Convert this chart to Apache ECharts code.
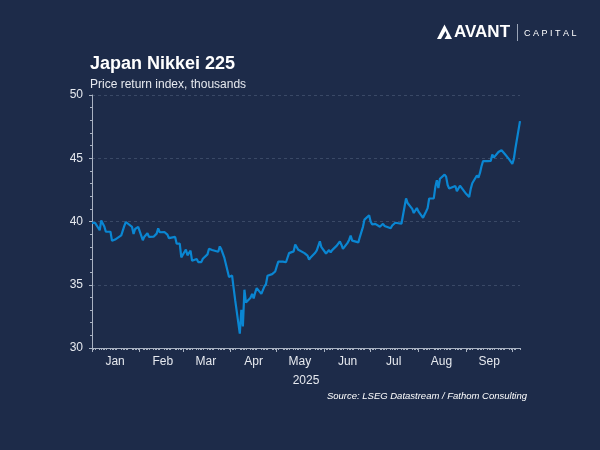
<!DOCTYPE html>
<html>
<head>
<meta charset="utf-8">
<script src="https://cdn.jsdelivr.net/npm/echarts@6/dist/echarts.min.js"></script>
<style>
    html, body { margin: 0; padding: 0; background: #1d2b49; }
    #chart { width: 600px; height: 450px; }
</style>
</head>
<body>
<div id="chart"></div>
<script>
// weekday closes (thousands), holidays carry the previous close
var jan = [39.89, 39.89, 39.89, 39.31, 40.08, 39.98, 39.61, 39.19, 39.19, 38.47, 38.44, 38.57, 38.45,
    38.90, 39.03, 39.65, 39.96, 39.93, 39.57, 39.02, 39.41, 39.51, 39.57];
var feb = [38.52, 38.80, 38.83, 39.07, 38.79, 38.80, 38.80, 39.04, 39.46, 39.15, 39.17, 39.27, 38.96,
    38.68, 38.78, 38.78, 38.24, 38.14, 38.26, 37.16];
var mar = [37.79, 37.33, 37.42, 37.70, 36.89, 37.03, 36.79, 36.82, 36.79, 37.05, 37.40, 37.85, 37.75,
    37.75, 37.68, 37.61, 38.03, 37.80, 37.80, 37.12, 35.62];
var apr = [35.62, 35.73, 34.74, 33.78, 31.14, 33.01, 31.71, 34.61, 33.59, 33.98, 34.27, 33.92, 34.38,
    34.73, 34.28, 34.22, 34.87, 35.04, 35.71, 35.84, 35.84, 36.05];
var may = [36.45, 36.83, 36.83, 36.83, 36.78, 36.93, 37.50, 37.64, 38.18, 38.13, 37.76, 37.75, 37.50,
    37.53, 37.30, 36.99, 37.16, 37.53, 37.72, 37.72, 38.43, 37.97];
var jun = [37.47, 37.45, 37.75, 37.55, 37.74, 38.09, 38.21, 38.42, 38.17, 37.83, 38.31, 38.54, 38.89,
    38.49, 38.40, 38.35, 38.79, 38.94, 39.58, 40.15, 40.49];
var jul = [39.99, 39.76, 39.79, 39.81, 39.59, 39.69, 39.82, 39.65, 39.57, 39.46, 39.68, 39.66, 39.90,
    39.82, 39.82, 39.77, 41.17, 41.83, 41.46, 41.00, 40.67, 40.65, 41.07];
var aug = [40.80, 40.29, 40.55, 40.79, 41.06, 41.82, 41.82, 42.72, 43.27, 42.65, 43.38, 43.71, 43.55,
    42.89, 42.61, 42.63, 42.81, 42.39, 42.52, 42.83, 42.72];
var sep = [42.19, 42.31, 41.94, 42.58, 43.02, 43.64, 43.46, 43.84, 44.37, 44.77, 44.77, 44.90, 44.79,
    45.30, 45.05, 45.49, 45.49, 45.63, 45.75, 45.35, 44.91, 44.93];
var oct = [44.55, 44.94, 45.77, 47.94];

var monthNames = ['Jan', 'Feb', 'Mar', 'Apr', 'May', 'Jun', 'Jul', 'Aug', 'Sep', 'Oct', 'Nov', 'Dec'];
var yTicks = [30, 35, 40, 45, 50];
var startDay = '2025-01-01';
var endDay = '2025-10-06';

// calendar days on the axis, values only on weekdays
var closes = [].concat(jan, feb, mar, apr, may, jun, jul, aug, sep, oct);
var days = [];
var values = [];
var t = Date.parse(startDay);
var tEnd = Date.parse(endDay);
var k = 0;
while (t <= tEnd) {
    var d = new Date(t);
    days.push(d.toISOString().slice(0, 10));
    var wd = d.getUTCDay();
    if (wd >= 1 && wd <= 5) {
        values.push(closes[k]);
        k++;
    } else {
        values.push(null);
    }
    t += 86400000;
}

function isWeekday(v) {
    var wd = new Date(v).getUTCDay();
    return wd >= 1 && wd <= 5;
}

var textColor = '#e6e9ef';
var axisColor = '#a9b2c2';

var chart = echarts.init(document.getElementById('chart'));
chart.setOption({
    backgroundColor: '#1d2b49',
    animation: false,
    textStyle: { fontFamily: 'Liberation Sans, Arial, sans-serif' },
    title: {
        text: 'Japan Nikkei 225',
        subtext: 'Price return index, thousands',
        left: 85,
        top: 50,
        itemGap: 6,
        textStyle: { color: '#ffffff', fontSize: 18, fontWeight: 'bold' },
        subtextStyle: { color: textColor, fontSize: 12 }
    },
    grid: { left: 92, right: 80, top: 95, bottom: 102 },
    xAxis: [{
        type: 'category',
        data: days,
        boundaryGap: false,
        name: '2025',
        nameLocation: 'middle',
        nameGap: 27,
        nameTextStyle: { color: textColor, fontSize: 12 },
        axisLine: { lineStyle: { color: axisColor, width: 1 } },
        axisTick: {
            interval: function (i, v) { return isWeekday(v); },
            length: 2,
            lineStyle: { color: axisColor }
        },
        axisLabel: {
            interval: function (i, v) { return v.slice(8) === '16'; },
            formatter: function (v) { return monthNames[+v.slice(5, 7) - 1]; },
            color: textColor,
            fontSize: 12,
            margin: 8
        },
        splitLine: { show: false }
    }, {
        type: 'category',
        data: days,
        boundaryGap: false,
        position: 'bottom',
        axisLine: { show: false },
        axisTick: {
            interval: function (i, v) { return v.slice(8) === '01'; },
            length: 4,
            lineStyle: { color: axisColor }
        },
        axisLabel: { show: false },
        splitLine: { show: false }
    }],
    yAxis: {
        type: 'value',
        min: yTicks[0],
        max: yTicks[yTicks.length - 1],
        interval: 5,
        axisLine: { show: true, lineStyle: { color: axisColor } },
        axisTick: { show: true, length: 3, lineStyle: { color: axisColor } },
        minorTick: { show: true, splitNumber: 5, length: 2, lineStyle: { color: axisColor } },
        axisLabel: { color: textColor, fontSize: 12, margin: 9 },
        splitLine: { lineStyle: { color: '#3a4966', type: [3, 3], width: 1 } }
    },
    series: [{
        type: 'line',
        data: values,
        connectNulls: true,
        showSymbol: false,
        symbol: 'none',
        lineStyle: { color: '#0a86d2', width: 2.2 },
        itemStyle: { color: '#0a86d2' }
    }],
    graphic: [
        {
            type: 'polygon',
            shape: { points: [[437, 39], [444.5, 24.5], [452, 39]] },
            style: { fill: '#ffffff' }
        },
        {
            type: 'polygon',
            shape: { points: [[441, 39], [445.5, 31], [447, 35], [444.5, 39]] },
            style: { fill: '#1d2b49' }
        },
        {
            type: 'text',
            left: 454,
            top: 24,
            style: { text: 'AVANT', fill: '#ffffff', font: 'bold 17px Liberation Sans, Arial, sans-serif' }
        },
        {
            type: 'line',
            shape: { x1: 517.5, y1: 24, x2: 517.5, y2: 41 },
            style: { stroke: '#9aa4b6', lineWidth: 1 }
        },
        {
            type: 'text',
            left: 524,
            top: 29,
            style: { text: 'C A P I T A L', fill: '#ffffff', font: '9px Liberation Sans, Arial, sans-serif' }
        },
        {
            type: 'text',
            right: 73,
            top: 391,
            style: {
                text: 'Source: LSEG Datastream / Fathom Consulting',
                fill: '#ffffff',
                font: 'italic 9.5px Liberation Sans, Arial, sans-serif'
            }
        }
    ]
});
</script>
</body>
</html>
